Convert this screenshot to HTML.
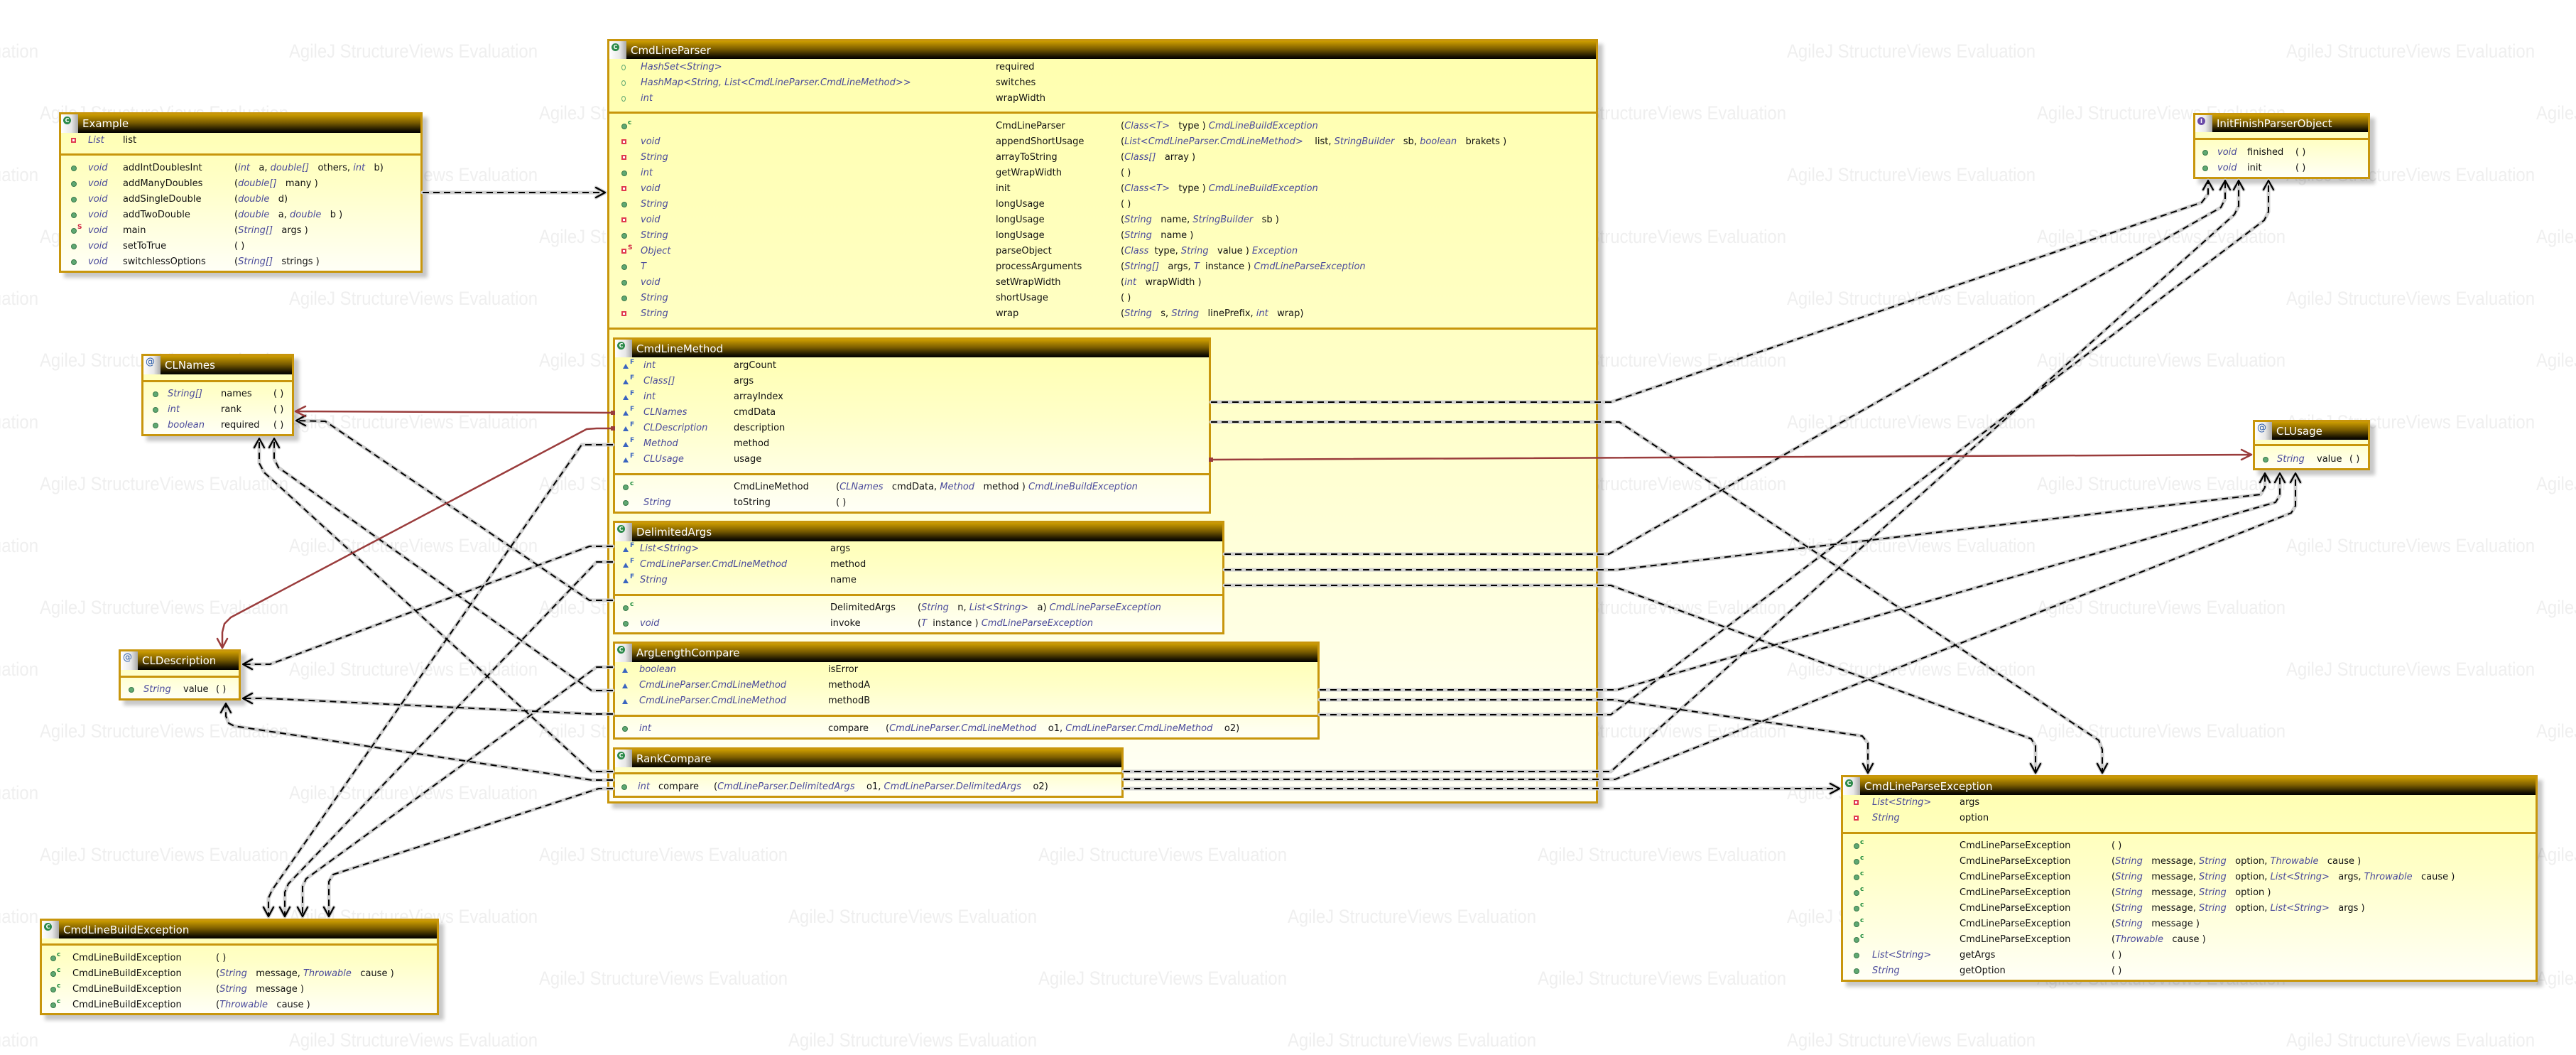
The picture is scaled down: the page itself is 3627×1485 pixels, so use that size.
<!DOCTYPE html>
<html><head><meta charset="utf-8">
<style>
body{margin:0;width:3627px;height:1485px;background:#fff;position:relative;overflow:hidden;font-family:"DejaVu Sans","Liberation Sans",sans-serif}
.wm{position:absolute;left:0;top:0;z-index:0}
.box{position:absolute;box-sizing:border-box;border:3px solid #c8960c;background:linear-gradient(180deg,#ffffae 0%,#ffffc8 45%,#fffff6 100%);box-shadow:7px 7px 5px rgba(0,0,0,0.22);z-index:1}
.h{position:relative;background:linear-gradient(180deg,#cb9c00 0%,#7a5c00 45%,#1a1400 85%,#000 100%);color:#fff;font-size:15px;white-space:nowrap;overflow:hidden}
.h span.tt{position:absolute;left:30px;top:50%;transform:translateY(-50%)}
.ic{position:absolute;left:0;top:0;width:24px;height:100%;background:linear-gradient(90deg,#fff 0%,#e8e8e8 60%,#aaa 100%)}
.ic i{position:absolute;left:3px;top:3px;width:11px;height:11px;border-radius:50%;background:#2c8a4a;color:#fff;font-size:8px;line-height:11px;text-align:center;font-style:normal;font-weight:bold}
.ic i.at{background:none;color:#2a5aa8;font-size:13px;font-weight:normal}
.ic i.in{background:#6a4aa8}
.sp{position:absolute;left:0;right:0;height:3px;background:#c8960c}
.r{position:absolute;height:22px;line-height:22px;font-size:13px;color:#111;white-space:nowrap;left:0;top:0;z-index:2}
.r span{position:absolute;top:0}
.r i{color:#4b4b9b}
.t{font-style:italic;color:#4b4b9b}
.g{position:absolute;top:7px;width:8px;height:8px;border-radius:50%;background:#5fa872;border:1px solid #3a7a4a;box-sizing:border-box}
.q{position:absolute;top:7px;width:7px;height:7px;background:#fff;border:2px solid #e03a50;box-sizing:border-box}
.a{position:absolute;top:8px;width:0;height:0;border-left:4px solid transparent;border-right:4px solid transparent;border-bottom:7px solid #3a64c0}
.o{position:absolute;top:7px;width:6px;height:8px;border:1.5px solid #5fa872;border-radius:50%;box-sizing:border-box}
.s{position:absolute;top:-6px;font-size:9px;line-height:12px;font-weight:bold}
.sc{color:#1a8a3a}.sf{color:#3a64c0}.ss{color:#d02040}
svg.cn{position:absolute;left:0;top:0;z-index:3}
</style></head><body>

<svg class="wm" width="3627" height="1485">
<defs><pattern id="wp" patternUnits="userSpaceOnUse" width="703" height="174" x="0" y="0">
<g font-family="Liberation Sans, sans-serif" font-size="27" fill="#efefef">
<text x="407" y="81" textLength="350" lengthAdjust="spacingAndGlyphs">AgileJ StructureViews Evaluation</text>
<text x="-296" y="81" textLength="350" lengthAdjust="spacingAndGlyphs">AgileJ StructureViews Evaluation</text>
<text x="56" y="168" textLength="350" lengthAdjust="spacingAndGlyphs">AgileJ StructureViews Evaluation</text>
<text x="56" y="-6" textLength="350" lengthAdjust="spacingAndGlyphs">AgileJ StructureViews Evaluation</text>
</g></pattern></defs>
<rect width="3627" height="1485" fill="url(#wp)"/>
</svg>

<!-- Example -->
<div class="box" style="left:83px;top:158px;width:512px;height:226px">
<div class="h" style="height:26px"><div class="ic"><i>C</i></div><span class="tt">Example</span></div>
<div class="sp" style="top:55px"></div></div>
<div class="r" style="top:187px"><b class="q" style="left:100px"></b><span class="t" style="left:124px">List</span><span style="left:173px">list</span></div>
<div class="r" style="top:226px"><b class="g" style="left:100px"></b><span class="t" style="left:124px">void</span><span style="left:173px">addIntDoublesInt</span><span style="left:330px">(<i>int</i>&nbsp;&nbsp; a, <i>double[]</i>&nbsp;&nbsp; others, <i>int</i>&nbsp;&nbsp; b)</span></div>
<div class="r" style="top:248px"><b class="g" style="left:100px"></b><span class="t" style="left:124px">void</span><span style="left:173px">addManyDoubles</span><span style="left:330px">(<i>double[]</i>&nbsp;&nbsp; many )</span></div>
<div class="r" style="top:270px"><b class="g" style="left:100px"></b><span class="t" style="left:124px">void</span><span style="left:173px">addSingleDouble</span><span style="left:330px">(<i>double</i>&nbsp;&nbsp; d)</span></div>
<div class="r" style="top:292px"><b class="g" style="left:100px"></b><span class="t" style="left:124px">void</span><span style="left:173px">addTwoDouble</span><span style="left:330px">(<i>double</i>&nbsp;&nbsp; a, <i>double</i>&nbsp;&nbsp; b )</span></div>
<div class="r" style="top:314px"><b class="g" style="left:100px"></b><span class="s ss" style="left:109px">S</span><span class="t" style="left:124px">void</span><span style="left:173px">main</span><span style="left:330px">(<i>String[]</i>&nbsp;&nbsp; args )</span></div>
<div class="r" style="top:336px"><b class="g" style="left:100px"></b><span class="t" style="left:124px">void</span><span style="left:173px">setToTrue</span><span style="left:330px">( )</span></div>
<div class="r" style="top:358px"><b class="g" style="left:100px"></b><span class="t" style="left:124px">void</span><span style="left:173px">switchlessOptions</span><span style="left:330px">(<i>String[]</i>&nbsp;&nbsp; strings )</span></div>

<!-- CmdLineParser -->
<div class="box" style="left:855px;top:55px;width:1395px;height:1076px">
<div class="h" style="height:25px"><div class="ic"><i>C</i></div><span class="tt">CmdLineParser</span></div>
<div class="sp" style="top:99px"></div><div class="sp" style="top:403px"></div></div>
<div class="r" style="top:84px"><b class="o" style="left:875px"></b><span class="t" style="left:902px">HashSet&lt;String&gt;</span><span style="left:1402px">required</span></div>
<div class="r" style="top:106px"><b class="o" style="left:875px"></b><span class="t" style="left:902px">HashMap&lt;String, List&lt;CmdLineParser.CmdLineMethod&gt;&gt;</span><span style="left:1402px">switches</span></div>
<div class="r" style="top:128px"><b class="o" style="left:875px"></b><span class="t" style="left:902px">int</span><span style="left:1402px">wrapWidth</span></div>
<div class="r" style="top:167px"><b class="g" style="left:875px"></b><span class="s sc" style="left:884px">c</span><span style="left:1402px">CmdLineParser</span><span style="left:1578px">(<i>Class&lt;T&gt;</i>&nbsp;&nbsp; type ) <i>CmdLineBuildException</i></span></div>
<div class="r" style="top:189px"><b class="q" style="left:875px"></b><span class="t" style="left:902px">void</span><span style="left:1402px">appendShortUsage</span><span style="left:1578px">(<i>List&lt;CmdLineParser.CmdLineMethod&gt;</i>&nbsp;&nbsp;&nbsp; list, <i>StringBuilder</i>&nbsp;&nbsp; sb, <i>boolean</i>&nbsp;&nbsp; brakets )</span></div>
<div class="r" style="top:211px"><b class="q" style="left:875px"></b><span class="t" style="left:902px">String</span><span style="left:1402px">arrayToString</span><span style="left:1578px">(<i>Class[]</i>&nbsp;&nbsp; array )</span></div>
<div class="r" style="top:233px"><b class="g" style="left:875px"></b><span class="t" style="left:902px">int</span><span style="left:1402px">getWrapWidth</span><span style="left:1578px">( )</span></div>
<div class="r" style="top:255px"><b class="q" style="left:875px"></b><span class="t" style="left:902px">void</span><span style="left:1402px">init</span><span style="left:1578px">(<i>Class&lt;T&gt;</i>&nbsp;&nbsp; type ) <i>CmdLineBuildException</i></span></div>
<div class="r" style="top:277px"><b class="g" style="left:875px"></b><span class="t" style="left:902px">String</span><span style="left:1402px">longUsage</span><span style="left:1578px">( )</span></div>
<div class="r" style="top:299px"><b class="q" style="left:875px"></b><span class="t" style="left:902px">void</span><span style="left:1402px">longUsage</span><span style="left:1578px">(<i>String</i>&nbsp;&nbsp; name, <i>StringBuilder</i>&nbsp;&nbsp; sb )</span></div>
<div class="r" style="top:321px"><b class="g" style="left:875px"></b><span class="t" style="left:902px">String</span><span style="left:1402px">longUsage</span><span style="left:1578px">(<i>String</i>&nbsp;&nbsp; name )</span></div>
<div class="r" style="top:343px"><b class="q" style="left:875px"></b><span class="s ss" style="left:884px">S</span><span class="t" style="left:902px">Object</span><span style="left:1402px">parseObject</span><span style="left:1578px">(<i>Class</i>&nbsp; type, <i>String</i>&nbsp;&nbsp; value ) <i>Exception</i></span></div>
<div class="r" style="top:365px"><b class="g" style="left:875px"></b><span class="t" style="left:902px">T</span><span style="left:1402px">processArguments</span><span style="left:1578px">(<i>String[]</i>&nbsp;&nbsp; args, <i>T</i>&nbsp; instance ) <i>CmdLineParseException</i></span></div>
<div class="r" style="top:387px"><b class="g" style="left:875px"></b><span class="t" style="left:902px">void</span><span style="left:1402px">setWrapWidth</span><span style="left:1578px">(<i>int</i>&nbsp;&nbsp; wrapWidth )</span></div>
<div class="r" style="top:409px"><b class="g" style="left:875px"></b><span class="t" style="left:902px">String</span><span style="left:1402px">shortUsage</span><span style="left:1578px">( )</span></div>
<div class="r" style="top:431px"><b class="q" style="left:875px"></b><span class="t" style="left:902px">String</span><span style="left:1402px">wrap</span><span style="left:1578px">(<i>String</i>&nbsp;&nbsp; s, <i>String</i>&nbsp;&nbsp; linePrefix, <i>int</i>&nbsp;&nbsp; wrap)</span></div>

<!-- CmdLineMethod -->
<div class="box" style="left:863px;top:475px;width:842px;height:248px;box-shadow:none">
<div class="h" style="height:25px"><div class="ic"><i>C</i></div><span class="tt">CmdLineMethod</span></div>
<div class="sp" style="top:188px"></div></div>
<div class="r" style="top:504px"><b class="a" style="left:877px"></b><span class="s sf" style="left:887px">F</span><span class="t" style="left:906px">int</span><span style="left:1033px">argCount</span></div>
<div class="r" style="top:526px"><b class="a" style="left:877px"></b><span class="s sf" style="left:887px">F</span><span class="t" style="left:906px">Class[]</span><span style="left:1033px">args</span></div>
<div class="r" style="top:548px"><b class="a" style="left:877px"></b><span class="s sf" style="left:887px">F</span><span class="t" style="left:906px">int</span><span style="left:1033px">arrayIndex</span></div>
<div class="r" style="top:570px"><b class="a" style="left:877px"></b><span class="s sf" style="left:887px">F</span><span class="t" style="left:906px">CLNames</span><span style="left:1033px">cmdData</span></div>
<div class="r" style="top:592px"><b class="a" style="left:877px"></b><span class="s sf" style="left:887px">F</span><span class="t" style="left:906px">CLDescription</span><span style="left:1033px">description</span></div>
<div class="r" style="top:614px"><b class="a" style="left:877px"></b><span class="s sf" style="left:887px">F</span><span class="t" style="left:906px">Method</span><span style="left:1033px">method</span></div>
<div class="r" style="top:636px"><b class="a" style="left:877px"></b><span class="s sf" style="left:887px">F</span><span class="t" style="left:906px">CLUsage</span><span style="left:1033px">usage</span></div>
<div class="r" style="top:675px"><b class="g" style="left:877px"></b><span class="s sc" style="left:887px">c</span><span style="left:1033px">CmdLineMethod</span><span style="left:1177px">(<i>CLNames</i>&nbsp;&nbsp; cmdData, <i>Method</i>&nbsp;&nbsp; method ) <i>CmdLineBuildException</i></span></div>
<div class="r" style="top:697px"><b class="g" style="left:877px"></b><span class="t" style="left:906px">String</span><span style="left:1033px">toString</span><span style="left:1177px">( )</span></div>

<!-- DelimitedArgs -->
<div class="box" style="left:863px;top:733px;width:861px;height:160px;box-shadow:none">
<div class="h" style="height:26px"><div class="ic"><i>C</i></div><span class="tt">DelimitedArgs</span></div>
<div class="sp" style="top:100px"></div></div>
<div class="r" style="top:762px"><b class="a" style="left:877px"></b><span class="s sf" style="left:887px">F</span><span class="t" style="left:901px">List&lt;String&gt;</span><span style="left:1169px">args</span></div>
<div class="r" style="top:784px"><b class="a" style="left:877px"></b><span class="s sf" style="left:887px">F</span><span class="t" style="left:901px">CmdLineParser.CmdLineMethod</span><span style="left:1169px">method</span></div>
<div class="r" style="top:806px"><b class="a" style="left:877px"></b><span class="s sf" style="left:887px">F</span><span class="t" style="left:901px">String</span><span style="left:1169px">name</span></div>
<div class="r" style="top:845px"><b class="g" style="left:877px"></b><span class="s sc" style="left:887px">c</span><span style="left:1169px">DelimitedArgs</span><span style="left:1292px">(<i>String</i>&nbsp;&nbsp; n, <i>List&lt;String&gt;</i>&nbsp;&nbsp; a) <i>CmdLineParseException</i></span></div>
<div class="r" style="top:867px"><b class="g" style="left:877px"></b><span class="t" style="left:901px">void</span><span style="left:1169px">invoke</span><span style="left:1292px">(<i>T</i>&nbsp; instance ) <i>CmdLineParseException</i></span></div>

<!-- ArgLengthCompare -->
<div class="box" style="left:863px;top:903px;width:995px;height:138px;box-shadow:none">
<div class="h" style="height:26px"><div class="ic"><i>C</i></div><span class="tt">ArgLengthCompare</span></div>
<div class="sp" style="top:100px"></div></div>
<div class="r" style="top:932px"><b class="a" style="left:876px"></b><span class="t" style="left:900px">boolean</span><span style="left:1166px">isError</span></div>
<div class="r" style="top:954px"><b class="a" style="left:876px"></b><span class="t" style="left:900px">CmdLineParser.CmdLineMethod</span><span style="left:1166px">methodA</span></div>
<div class="r" style="top:976px"><b class="a" style="left:876px"></b><span class="t" style="left:900px">CmdLineParser.CmdLineMethod</span><span style="left:1166px">methodB</span></div>
<div class="r" style="top:1015px"><b class="g" style="left:876px"></b><span class="t" style="left:900px">int</span><span style="left:1166px">compare</span><span style="left:1247px">(<i>CmdLineParser.CmdLineMethod</i>&nbsp;&nbsp;&nbsp; o1, <i>CmdLineParser.CmdLineMethod</i>&nbsp;&nbsp;&nbsp; o2)</span></div>

<!-- RankCompare -->
<div class="box" style="left:863px;top:1052px;width:719px;height:71px;box-shadow:none">
<div class="h" style="height:25px"><div class="ic"><i>C</i></div><span class="tt">RankCompare</span></div>
<div class="sp" style="top:32px"></div></div>
<div class="r" style="top:1097px"><b class="g" style="left:875px"></b><span class="t" style="left:898px">int</span><span style="left:927px">compare</span><span style="left:1005px">(<i>CmdLineParser.DelimitedArgs</i>&nbsp;&nbsp;&nbsp; o1, <i>CmdLineParser.DelimitedArgs</i>&nbsp;&nbsp;&nbsp; o2)</span></div>

<!-- CLNames -->
<div class="box" style="left:199px;top:498px;width:215px;height:116px">
<div class="h" style="height:26px"><div class="ic"><i class="at">@</i></div><span class="tt">CLNames</span></div>
<div class="sp" style="top:34px"></div></div>
<div class="r" style="top:544px"><b class="g" style="left:215px"></b><span class="t" style="left:236px">String[]</span><span style="left:311px">names</span><span style="left:385px">( )</span></div>
<div class="r" style="top:566px"><b class="g" style="left:215px"></b><span class="t" style="left:236px">int</span><span style="left:311px">rank</span><span style="left:385px">( )</span></div>
<div class="r" style="top:588px"><b class="g" style="left:215px"></b><span class="t" style="left:236px">boolean</span><span style="left:311px">required</span><span style="left:385px">( )</span></div>

<!-- CLDescription -->
<div class="box" style="left:167px;top:914px;width:172px;height:72px">
<div class="h" style="height:26px"><div class="ic"><i class="at">@</i></div><span class="tt">CLDescription</span></div>
<div class="sp" style="top:34px"></div></div>
<div class="r" style="top:960px"><b class="g" style="left:181px"></b><span class="t" style="left:202px">String</span><span style="left:258px">value</span><span style="left:304px">( )</span></div>

<!-- CmdLineBuildException -->
<div class="box" style="left:56px;top:1293px;width:562px;height:136px">
<div class="h" style="height:25px"><div class="ic"><i>C</i></div><span class="tt">CmdLineBuildException</span></div>
<div class="sp" style="top:32px"></div></div>
<div class="r" style="top:1338px"><b class="g" style="left:71px"></b><span class="s sc" style="left:80px">c</span><span style="left:102px">CmdLineBuildException</span><span style="left:304px">( )</span></div>
<div class="r" style="top:1360px"><b class="g" style="left:71px"></b><span class="s sc" style="left:80px">c</span><span style="left:102px">CmdLineBuildException</span><span style="left:304px">(<i>String</i>&nbsp;&nbsp; message, <i>Throwable</i>&nbsp;&nbsp; cause )</span></div>
<div class="r" style="top:1382px"><b class="g" style="left:71px"></b><span class="s sc" style="left:80px">c</span><span style="left:102px">CmdLineBuildException</span><span style="left:304px">(<i>String</i>&nbsp;&nbsp; message )</span></div>
<div class="r" style="top:1404px"><b class="g" style="left:71px"></b><span class="s sc" style="left:80px">c</span><span style="left:102px">CmdLineBuildException</span><span style="left:304px">(<i>Throwable</i>&nbsp;&nbsp; cause )</span></div>

<!-- InitFinishParserObject -->
<div class="box" style="left:3088px;top:159px;width:249px;height:93px">
<div class="h" style="height:24px"><div class="ic"><i class="in">I</i></div><span class="tt">InitFinishParserObject</span></div>
<div class="sp" style="top:32px"></div></div>
<div class="r" style="top:204px"><b class="g" style="left:3101px"></b><span class="t" style="left:3122px">void</span><span style="left:3164px">finished</span><span style="left:3232px">( )</span></div>
<div class="r" style="top:226px"><b class="g" style="left:3101px"></b><span class="t" style="left:3122px">void</span><span style="left:3164px">init</span><span style="left:3232px">( )</span></div>

<!-- CLUsage -->
<div class="box" style="left:3172px;top:591px;width:165px;height:71px">
<div class="h" style="height:25px"><div class="ic"><i class="at">@</i></div><span class="tt">CLUsage</span></div>
<div class="sp" style="top:31px"></div></div>
<div class="r" style="top:636px"><b class="g" style="left:3186px"></b><span class="t" style="left:3206px">String</span><span style="left:3262px">value</span><span style="left:3308px">( )</span></div>

<!-- CmdLineParseException -->
<div class="box" style="left:2592px;top:1091px;width:981px;height:291px">
<div class="h" style="height:25px"><div class="ic"><i>C</i></div><span class="tt">CmdLineParseException</span></div>
<div class="sp" style="top:77px"></div></div>
<div class="r" style="top:1119px"><b class="q" style="left:2610px"></b><span class="t" style="left:2636px">List&lt;String&gt;</span><span style="left:2759px">args</span></div>
<div class="r" style="top:1141px"><b class="q" style="left:2610px"></b><span class="t" style="left:2636px">String</span><span style="left:2759px">option</span></div>
<div class="r" style="top:1180px"><b class="g" style="left:2610px"></b><span class="s sc" style="left:2619px">c</span><span style="left:2759px">CmdLineParseException</span><span style="left:2973px">( )</span></div>
<div class="r" style="top:1202px"><b class="g" style="left:2610px"></b><span class="s sc" style="left:2619px">c</span><span style="left:2759px">CmdLineParseException</span><span style="left:2973px">(<i>String</i>&nbsp;&nbsp; message, <i>String</i>&nbsp;&nbsp; option, <i>Throwable</i>&nbsp;&nbsp; cause )</span></div>
<div class="r" style="top:1224px"><b class="g" style="left:2610px"></b><span class="s sc" style="left:2619px">c</span><span style="left:2759px">CmdLineParseException</span><span style="left:2973px">(<i>String</i>&nbsp;&nbsp; message, <i>String</i>&nbsp;&nbsp; option, <i>List&lt;String&gt;</i>&nbsp;&nbsp; args, <i>Throwable</i>&nbsp;&nbsp; cause )</span></div>
<div class="r" style="top:1246px"><b class="g" style="left:2610px"></b><span class="s sc" style="left:2619px">c</span><span style="left:2759px">CmdLineParseException</span><span style="left:2973px">(<i>String</i>&nbsp;&nbsp; message, <i>String</i>&nbsp;&nbsp; option )</span></div>
<div class="r" style="top:1268px"><b class="g" style="left:2610px"></b><span class="s sc" style="left:2619px">c</span><span style="left:2759px">CmdLineParseException</span><span style="left:2973px">(<i>String</i>&nbsp;&nbsp; message, <i>String</i>&nbsp;&nbsp; option, <i>List&lt;String&gt;</i>&nbsp;&nbsp; args )</span></div>
<div class="r" style="top:1290px"><b class="g" style="left:2610px"></b><span class="s sc" style="left:2619px">c</span><span style="left:2759px">CmdLineParseException</span><span style="left:2973px">(<i>String</i>&nbsp;&nbsp; message )</span></div>
<div class="r" style="top:1312px"><b class="g" style="left:2610px"></b><span class="s sc" style="left:2619px">c</span><span style="left:2759px">CmdLineParseException</span><span style="left:2973px">(<i>Throwable</i>&nbsp;&nbsp; cause )</span></div>
<div class="r" style="top:1334px"><b class="g" style="left:2610px"></b><span class="t" style="left:2636px">List&lt;String&gt;</span><span style="left:2759px">getArgs</span><span style="left:2973px">( )</span></div>
<div class="r" style="top:1356px"><b class="g" style="left:2610px"></b><span class="t" style="left:2636px">String</span><span style="left:2759px">getOption</span><span style="left:2973px">( )</span></div>

<!-- connectors -->
<svg class="cn" width="3627" height="1485" fill="none" stroke-linejoin="round" stroke-linecap="round">
<defs>
<path id="d1" d="M595,271 L851,271 M839,264 L852,271 L839,278"/>
<path id="d5" d="M863,845 L830,845 L458,593 L417,592 M430,585 L417,592 L430,599"/>
<path id="d6" d="M863,1086 L833,1086 L372,665 L365,652 L365,617 M358,630 L365,617 L372,630"/>
<path id="d7" d="M863,972 L833,972 L392,658 L386,646 L386,617 M379,630 L386,617 L393,630"/>
<path id="d8" d="M863,769 L830,769 L380,935 L342,935 M355,928 L342,935 L355,942"/>
<path id="d9" d="M863,1005 L833,1005 L375,983 L342,983 M355,976 L342,983 L355,990"/>
<path id="d10" d="M863,1098 L833,1098 L330,1022 L322,1018 L318,1008 L318,990 M311,1003 L318,990 L325,1003"/>
<path id="d11" d="M863,626 L819,626 L383,1253 L378,1264 L378,1290 M371,1277 L378,1290 L385,1277"/>
<path id="d12" d="M863,791 L840,791 L406,1244 L401,1256 L401,1290 M394,1277 L401,1290 L408,1277"/>
<path id="d13" d="M863,939 L840,939 L431,1237 L426,1248 L426,1290 M419,1277 L426,1290 L433,1277"/>
<path id="d14" d="M863,1110 L843,1110 L469,1231 L463,1241 L463,1290 M456,1277 L463,1290 L470,1277"/>
<path id="d15" d="M1705,566 L2268,566 L3100,285 L3109,273 L3109,254 M3102,267 L3109,254 L3116,267"/>
<path id="d16" d="M1724,780 L2265,780 L3127,292 L3133,280 L3133,254 M3126,267 L3133,254 L3140,267"/>
<path id="d17" d="M1705,594 L2280,594 L2955,1042 L2960,1055 L2960,1088 M2953,1075 L2960,1088 L2967,1075"/>
<path id="d18" d="M1724,802 L2277,802 L3183,696 L3189,686 L3189,666 M3182,679 L3189,666 L3196,679"/>
<path id="d19" d="M1724,824 L2268,824 L2860,1040 L2866,1050 L2866,1088 M2859,1075 L2866,1088 L2873,1075"/>
<path id="d20" d="M1858,971 L2277,971 L3204,707 L3210,697 L3210,666 M3203,679 L3210,666 L3217,679"/>
<path id="d21" d="M1858,985 L2271,985 L2622,1036 L2630,1046 L2630,1088 M2623,1075 L2630,1088 L2637,1075"/>
<path id="d22" d="M1858,1006 L2268,1006 L3188,310 L3194,298 L3194,254 M3187,267 L3194,254 L3201,267"/>
<path id="d23" d="M1582,1086 L2268,1086 L3146,302 L3152,290 L3152,254 M3145,267 L3152,254 L3159,267"/>
<path id="d24" d="M1582,1097 L2274,1097 L3226,722 L3232,712 L3232,666 M3225,679 L3232,666 L3239,679"/>
<path id="d25" d="M1582,1110 L2590,1110 M2577,1103 L2590,1110 L2577,1117"/>
</defs>
<g stroke="#cfcfcf" stroke-width="5">
<use href="#d1"/><use href="#d5"/><use href="#d6"/><use href="#d7"/><use href="#d8"/><use href="#d9"/><use href="#d10"/><use href="#d11"/><use href="#d12"/><use href="#d13"/><use href="#d14"/><use href="#d15"/><use href="#d16"/><use href="#d17"/><use href="#d18"/><use href="#d19"/><use href="#d20"/><use href="#d21"/><use href="#d22"/><use href="#d23"/><use href="#d24"/><use href="#d25"/>
</g>
<g stroke="#000" stroke-width="2" stroke-dasharray="9,6" stroke-linecap="butt">
<use href="#d1"/><use href="#d5"/><use href="#d6"/><use href="#d7"/><use href="#d8"/><use href="#d9"/><use href="#d10"/><use href="#d11"/><use href="#d12"/><use href="#d13"/><use href="#d14"/><use href="#d15"/><use href="#d16"/><use href="#d17"/><use href="#d18"/><use href="#d19"/><use href="#d20"/><use href="#d21"/><use href="#d22"/><use href="#d23"/><use href="#d24"/><use href="#d25"/>
</g>
<g stroke="#000" stroke-width="2.2">
<path d="M839,264 L852,271 L839,278 M430,585 L417,592 L430,599 M358,630 L365,617 L372,630 M379,630 L386,617 L393,630 M355,928 L342,935 L355,942 M355,976 L342,983 L355,990 M311,1003 L318,990 L325,1003 M371,1277 L378,1290 L385,1277 M394,1277 L401,1290 L408,1277 M419,1277 L426,1290 L433,1277 M456,1277 L463,1290 L470,1277 M3102,267 L3109,254 L3116,267 M3126,267 L3133,254 L3140,267 M2953,1075 L2960,1088 L2967,1075 M3182,679 L3189,666 L3196,679 M2859,1075 L2866,1088 L2873,1075 M3203,679 L3210,666 L3217,679 M2623,1075 L2630,1088 L2637,1075 M3187,267 L3194,254 L3201,267 M3145,267 L3152,254 L3159,267 M3225,679 L3232,666 L3239,679 M2577,1103 L2590,1110 L2577,1117"/>
</g>
<g stroke="#9a3c3c" stroke-width="2.5">
<path d="M863,581 L416,579 M430,572 L416,579 L430,586"/>
<path d="M863,603 L840,603 L826,604 L325,869 L316,878 L313,890 L313,912 M306,899 L313,912 L320,899"/>
<path d="M1705,647 L3170,640 M3156,633 L3170,640 L3156,647"/>
</g>
<g fill="#9a3c3c"><rect x="860" y="578" width="6" height="6"/><rect x="860" y="600" width="6" height="6"/><rect x="1702" y="644" width="6" height="6"/></g>
</svg>
</body></html>
